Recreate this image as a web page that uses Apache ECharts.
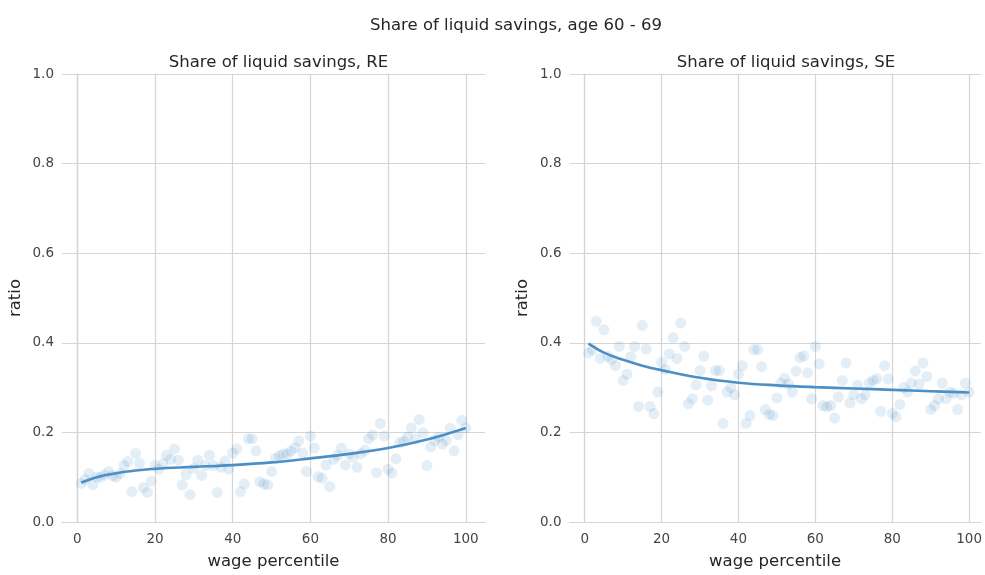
<!DOCTYPE html>
<html>
<head>
<meta charset="utf-8">
<script src="https://cdn.jsdelivr.net/npm/echarts@6/dist/echarts.min.js"></script>
<style>
html,body{margin:0;padding:0;background:#fff;}
#chart{width:985px;height:575px;}
</style>
</head>
<body>
<div id="chart"></div>
<script>
const percentiles = Array.from({length: 100}, (_, i) => i + 1);

const reScatter = [
  0.086,0.095,0.109,0.083,0.100,0.100,0.105,0.113,0.103,0.100,
  0.108,0.126,0.135,0.068,0.153,0.131,0.077,0.066,0.091,0.126,
  0.118,0.130,0.149,0.140,0.163,0.138,0.083,0.106,0.061,0.120,
  0.138,0.104,0.126,0.149,0.126,0.066,0.122,0.136,0.118,0.154,
  0.163,0.068,0.085,0.186,0.186,0.159,0.090,0.085,0.083,0.113,
  0.142,0.148,0.152,0.152,0.158,0.166,0.181,0.154,0.113,0.192,
  0.165,0.101,0.098,0.127,0.079,0.140,0.149,0.165,0.127,0.152,
  0.145,0.122,0.152,0.160,0.186,0.194,0.110,0.220,0.192,0.118,
  0.109,0.141,0.177,0.180,0.190,0.210,0.185,0.229,0.199,0.126,
  0.168,0.182,0.190,0.174,0.182,0.209,0.159,0.195,0.227,0.210
];

const seScatter = [
  0.377,0.385,0.448,0.365,0.429,0.370,0.363,0.349,0.392,0.316,
  0.330,0.369,0.392,0.258,0.439,0.386,0.258,0.242,0.290,0.356,
  0.340,0.375,0.411,0.365,0.444,0.392,0.264,0.275,0.306,0.338,
  0.370,0.272,0.304,0.338,0.338,0.220,0.290,0.300,0.284,0.330,
  0.349,0.220,0.238,0.385,0.385,0.347,0.251,0.240,0.238,0.277,
  0.310,0.321,0.308,0.290,0.337,0.367,0.371,0.333,0.275,0.392,
  0.353,0.260,0.257,0.260,0.232,0.279,0.316,0.355,0.266,0.284,
  0.306,0.275,0.284,0.310,0.316,0.320,0.247,0.349,0.319,0.243,
  0.235,0.262,0.300,0.290,0.310,0.337,0.308,0.355,0.325,0.251,
  0.260,0.275,0.310,0.275,0.290,0.287,0.251,0.284,0.310,0.290
];

const fitX = [1,5,10,15,20,30,40,50,60,70,80,90,100];
const reFit = [0.088,0.100,0.109,0.115,0.119,0.123,0.127,0.133,0.142,0.152,0.165,0.184,0.210];
const seFit = [0.398,0.378,0.362,0.349,0.339,0.322,0.311,0.305,0.301,0.298,0.295,0.292,0.289];

const xTicks = [0,20,40,60,80,100];

const suptitle = 'Share of liquid savings, age 60 - 69';
const panelTitles = ['Share of liquid savings, RE', 'Share of liquid savings, SE'];
const xLabel = 'wage percentile';
const yLabel = 'ratio';

const FONT = 'DejaVu Sans';
const TXT = '#262626';
const GRIDC = '#d5d5d5';

function pairs(xs, ys){ return xs.map((x,i)=>[x, ys[i]]); }

// right panel is cut off by the figure edge in the reference
const xRanges = [[-3.95, 104.95], [-3.95, 103.0]];
const grids = [
  {left: 62, top: 74, width: 423, height: 453},
  {left: 569.5, top: 74, right: 0, height: 453}
];

function xAxis(i){
  return {
    gridIndex: i, type: 'value', min: xRanges[i][0], max: xRanges[i][1],
    name: xLabel, nameLocation: 'middle', nameGap: 31,
    nameTextStyle: {fontFamily: FONT, fontSize: 16.5, color: TXT},
    axisLine: {show: true, onZero: false, lineStyle: {color: GRIDC, width: 1.2}},
    axisTick: {show: false, customValues: xTicks},
    splitLine: {show: true, lineStyle: {color: GRIDC, width: 1.2}},
    axisLabel: {
      fontFamily: FONT, fontSize: 13.5, color: '#444', margin: 10,
      customValues: xTicks
    }
  };
}
function xAxisTop(i){
  return {
    gridIndex: i, type: 'value', min: xRanges[i][0], max: xRanges[i][1], position: 'top',
    axisLine: {show: true, lineStyle: {color: GRIDC, width: 1.2}},
    axisTick: {show: false}, axisLabel: {show: false}, splitLine: {show: false}
  };
}
function yAxis(i){
  return {
    gridIndex: i, type: 'value', min: 0, max: 1, interval: 0.2,
    name: yLabel, nameLocation: 'middle', nameGap: 38, nameRotate: 90,
    nameTextStyle: {fontFamily: FONT, fontSize: 16.5, color: TXT},
    axisLine: {show: true, lineStyle: {color: GRIDC, width: 1.2}},
    axisTick: {show: false},
    splitLine: {show: true, lineStyle: {color: GRIDC, width: 1.2}},
    axisLabel: {fontFamily: FONT, fontSize: 13.5, color: '#444', margin: 8,
      formatter: v => v.toFixed(1)}
  };
}
function yAxisRight(i){
  return {
    gridIndex: i, type: 'value', min: 0, max: 1, position: 'right',
    axisLine: {show: i === 0, lineStyle: {color: GRIDC, width: 1.2}},
    axisTick: {show: false}, axisLabel: {show: false}, splitLine: {show: false}
  };
}

const chart = echarts.init(document.getElementById('chart'), null, {renderer: 'canvas'});
chart.setOption({
  backgroundColor: '#fff',
  animation: false,
  title: [
    {text: suptitle, left: 511, top: 12, textAlign: 'center',
      textStyle: {fontFamily: FONT, fontSize: 16.5, fontWeight: 'normal', color: TXT}},
    {text: panelTitles[0], left: 273.5, top: 49, textAlign: 'center',
      textStyle: {fontFamily: FONT, fontSize: 16.5, fontWeight: 'normal', color: TXT}},
    {text: panelTitles[1], left: 781, top: 49, textAlign: 'center',
      textStyle: {fontFamily: FONT, fontSize: 16.5, fontWeight: 'normal', color: TXT}}
  ],
  grid: grids,
  xAxis: [xAxis(0), xAxis(1), xAxisTop(0), xAxisTop(1)],
  yAxis: [yAxis(0), yAxis(1), yAxisRight(0), yAxisRight(1)],
  series: [
    {type: 'scatter', xAxisIndex: 0, yAxisIndex: 0, data: pairs(percentiles, reScatter),
      symbolSize: 11, itemStyle: {color: '#1f77b4', opacity: 0.12}},
    {type: 'scatter', xAxisIndex: 1, yAxisIndex: 1, data: pairs(percentiles, seScatter),
      symbolSize: 11, itemStyle: {color: '#1f77b4', opacity: 0.12}},
    {type: 'line', xAxisIndex: 0, yAxisIndex: 0, data: pairs(fitX, reFit), smooth: 0.4,
      showSymbol: false, lineStyle: {color: '#4c8fc6', width: 2.6}},
    {type: 'line', xAxisIndex: 1, yAxisIndex: 1, data: pairs(fitX, seFit), smooth: 0.4,
      showSymbol: false, lineStyle: {color: '#4c8fc6', width: 2.6}}
  ]
});
</script>
</body>
</html>
